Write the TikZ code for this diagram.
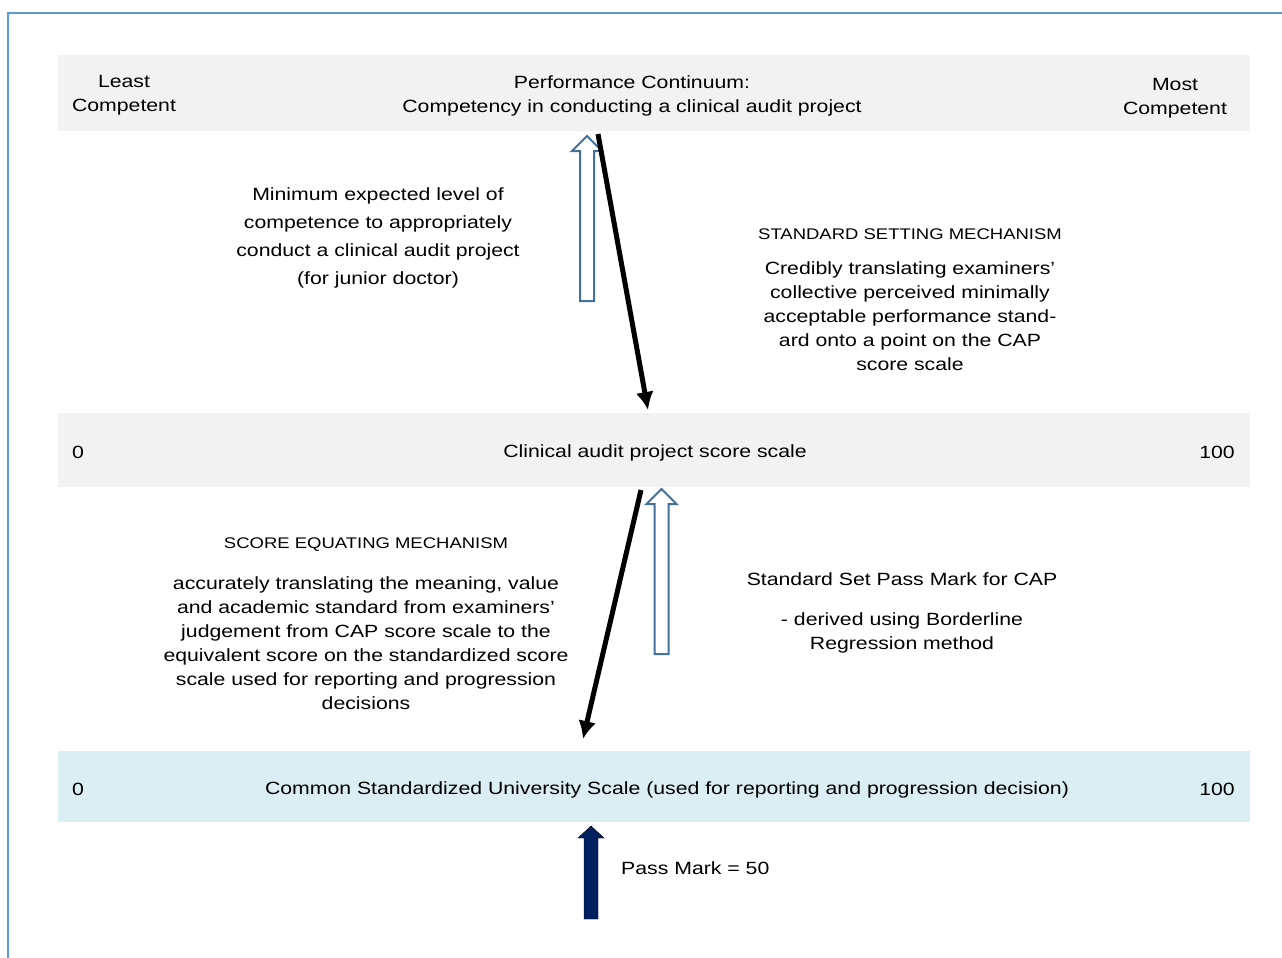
\documentclass[tikz,border=0pt]{standalone}
\usepackage{fontspec}
\setmainfont{Liberation Sans}[FakeStretch=1.2]
\usepackage{tikz}
\usetikzlibrary{arrows.meta}
\definecolor{bandgrey}{HTML}{F2F2F2}
\definecolor{bandblue}{HTML}{DAEEF3}
\definecolor{framblue}{RGB}{91,155,213}
\definecolor{outlblue}{RGB}{65,113,156}
\definecolor{navy}{HTML}{002060}
\tikzset{>={Latex[length=18pt,width=18pt]}}
\tikzset{
  band/.style={fill=bandgrey, inner sep=0pt, minimum width=1192pt},
  blueband/.style={band, fill=bandblue},
  txt/.style={align=center, inner sep=0pt, yshift=-2.5pt},
  caps/.style={txt, yshift=-1pt, font=\fontsize{15.4}{18}\selectfont},
  mech/.style={->, line width=5pt},
  hollow/.style={draw=outlblue, fill=white, line width=2pt},
}

\begin{document}
\begin{tikzpicture}[x=1pt,y=-1pt]

  \fontsize{17.7}{24}\selectfont

  \useasboundingbox (0,0) rectangle (1282,958);
  \draw[framblue, line width=2pt] (8,958) -- (8,13) -- (1282,13);

  % block arrow: style, x, bottom, tip, head half width, head length
  \newcommand\blockup[6]{%
    \draw[#1] (#2-7,#3) -- (#2-7,#4+#6) -- (#2-#5,#4+#6) -- (#2,#4)
      -- (#2+#5,#4+#6) -- (#2+7,#4+#6) -- (#2+7,#3) -- cycle;}

  % the three scales
  \node[band, minimum height=76pt] (cont) at (654,93) {};
  \node[band, minimum height=74pt] (cap) at (654,450) {};
  \node[blueband, minimum height=71pt] (univ) at (654,786.5) {};

  \node[txt] (least) at (124,93) {Least\\Competent};
  \node[txt] (perf) at (632,93) {Performance Continuum:\\Competency in conducting a clinical audit project};
  \node[txt] (most) at (1175,96) {Most\\Competent};

  \node[txt] (capzero) at (78,450) {0};
  \node[txt] (capname) at (655,450) {Clinical audit project score scale};
  \node[txt] (caphund) at (1217,450) {100};

  \node[txt] (unizero) at (78,787) {0};
  \node[txt] (uniname) at (667,787) {Common Standardized University Scale (used for reporting and progression decision)};
  \node[txt] (unihund) at (1217,787) {100};

  % upper gap
  \node[txt, font=\fontsize{17.7}{28}\selectfont] (minlvl) at (378,235)
    {Minimum expected level of\\competence to appropriately\\conduct a clinical audit project\\(for junior doctor)};
  \node[caps] (ssmech) at (910,231) {STANDARD SETTING MECHANISM};
  \node[txt] (ssdesc) at (910,314)
    {Credibly translating examiners'\\collective perceived minimally\\acceptable performance stand-\\ard onto a point on the CAP\\score scale};

  % lower gap
  \node[caps] (semech) at (366,541) {SCORE EQUATING MECHANISM};
  \node[txt] (sedesc) at (366,640.5)
    {accurately translating the meaning, value\\and academic standard from examiners'\\judgement from CAP score scale to the\\equivalent score on the standardized score\\scale used for reporting and progression\\decisions};
  \node[txt] (passcap) at (902,577) {Standard Set Pass Mark for CAP};
  \node[txt] (derived) at (902,630) {- derived using Borderline\\Regression method};

  \node[txt, anchor=west] (passmark) at (621,866) {Pass Mark = 50};

  % arrows
  \blockup{hollow}{587}{301}{136}{15}{15}
  \blockup{hollow}{661.5}{654}{489}{15}{15}
  \blockup{fill=navy}{591}{919}{826}{13}{12}

  \coordinate (ss-a) at (598,134);
  \coordinate (ss-b) at (648,410);
  \coordinate (se-a) at (641,490);
  \coordinate (se-b) at (583,739);
  \draw[mech] (ss-a) -- (ss-b);
  \draw[mech] (se-a) -- (se-b);

\end{tikzpicture}
\end{document}
